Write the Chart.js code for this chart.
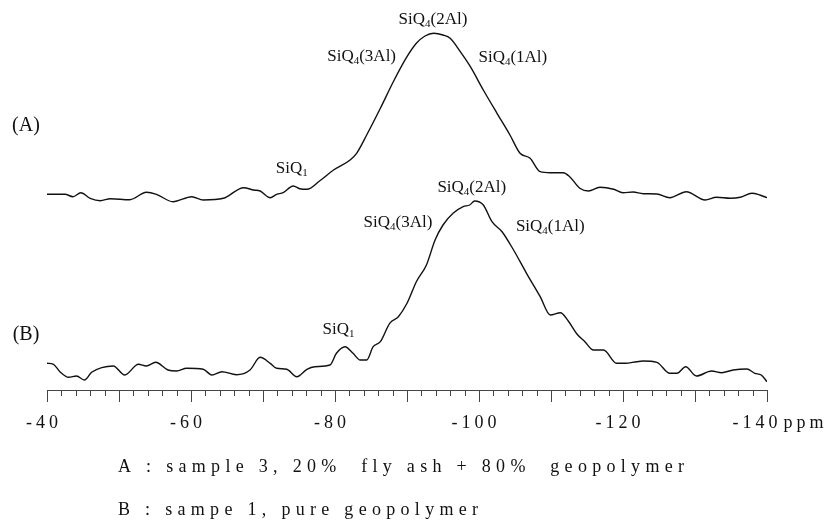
<!DOCTYPE html>
<html>
<head>
<meta charset="utf-8">
<script src="https://cdn.jsdelivr.net/npm/chart.js@4/dist/chart.umd.min.js"></script>
<style>
  html, body { margin: 0; padding: 0; background: #fff; }
  #wrap { width: 835px; height: 520px; }
</style>
</head>
<body>
<div id="wrap"><canvas id="nmr" width="835" height="520"></canvas></div>
<script>
// 29Si MAS NMR spectra, chemical shift (ppm) vs intensity (arbitrary units, traces stacked)

// (A) sample 3, 20% fly ash + 80% geopolymer
const ppmA = [-40.0, -42.5, -43.6, -44.7, -46.0, -47.4, -48.8, -51.5, -53.8, -55.2, -57.5, -60.1, -61.7, -64.5,
  -67.3, -68.7, -69.6, -71.0, -71.9, -72.8, -74.2, -75.1, -76.1, -77.9, -79.8, -82.1, -83.0, -84.4, -86.3, -88.1,
  -90.0, -91.3, -92.5, -93.7, -95.0, -96.0, -97.4, -98.8, -100.6, -102.5, -104.3, -105.7, -107.1, -108.5, -109.9,
  -111.7, -112.6, -114.0, -115.2, -116.8, -118.7, -120.0, -121.4, -122.8, -124.7, -126.5, -128.8, -131.4, -133.0,
  -134.9, -136.3, -137.9, -139.0, -140.0];
const intA = [19.57, 19.57, 19.33, 19.73, 19.17, 18.93, 19.13, 19.03, 19.77, 19.57, 18.83, 19.33, 19.0, 19.17,
  20.23, 20.0, 19.9, 19.23, 19.57, 19.73, 20.4, 20.13, 20.07, 20.93, 22.0, 23.0, 23.67, 25.5, 28.17, 30.83,
  33.33, 34.67, 35.4, 35.67, 35.5, 35.17, 33.83, 32.33, 30.0, 27.67, 25.5, 23.67, 23.17, 21.83, 21.73,
  21.73, 21.33, 20.17, 19.9, 20.27, 20.07, 19.73, 19.8, 19.63, 19.6, 19.23, 19.83, 19.0, 19.27,
  19.17, 19.27, 19.67, 19.5, 19.23];

// (B) sample 1, pure geopolymer
const ppmB = [-40.0, -40.9, -41.8, -43.0, -44.1, -45.2, -46.2, -47.6, -49.2, -50.8, -52.7, -53.8, -55.1, -56.8,
  -58.0, -59.4, -61.7, -62.9, -64.3, -66.3, -68.2, -69.6, -71.0, -71.9, -73.3, -74.7, -76.1, -77.2, -79.3, -80.2,
  -81.4, -82.5, -83.5, -84.4, -85.3, -86.3, -87.6, -88.8, -90.0, -91.3, -92.7, -93.9, -95.0, -96.4, -97.8, -98.7,
  -99.4, -100.6, -101.8, -103.2, -104.8, -106.6, -108.5, -109.9, -111.3, -112.4, -113.6, -114.7, -115.9, -117.3,
  -119.1, -120.3, -121.9, -122.8, -124.7, -126.5, -127.5, -128.7, -130.2, -132.3, -133.7, -135.3, -137.2, -138.3,
  -139.2, -140.0];
const intB = [2.67, 2.57, 1.83, 1.27, 1.4, 1.0, 1.77, 2.23, 2.4, 1.5, 2.57, 2.4, 2.77, 2.0,
  1.9, 2.17, 2.07, 1.5, 1.83, 1.53, 2.0, 3.27, 2.67, 2.17, 2.07, 1.33, 2.07, 2.33, 2.5, 3.67,
  4.33, 3.67, 3.0, 3.0, 4.33, 4.83, 6.67, 7.33, 8.67, 10.83, 12.5, 15.0, 16.5, 17.67, 18.33, 18.5,
  18.9, 18.5, 16.83, 15.83, 14.0, 11.67, 9.33, 7.5, 7.73, 6.9, 5.6, 4.83, 4.0, 4.0,
  2.67, 2.67, 2.83, 2.9, 2.77, 1.67, 1.67, 2.33, 1.4, 1.9, 1.73, 2.0, 2.1, 1.67,
  1.5, 0.83];

// axis ticks
const tickValues = [-40, -60, -80, -100, -120, -140];
const tickLabels = ['-40', '-60', '-80', '-100', '-120', '-140'];
const axisUnit = 'ppm';

const captions = [
  'A : sample 3, 20%  fly ash + 80%  geopolymer',
  'B : sampe 1, pure geopolymer'
];

const SERIF = '"Liberation Serif", "Times New Roman", serif';

function toPoints(xs, ys) {
  return xs.map((x, i) => ({ x: x, y: ys[i] }));
}

// SiQ with subscript, centred on (cx, cy)
function drawSiQ(ctx, sub, tail, cx, cy) {
  const big = '17px ' + SERIF;
  const small = '11px ' + SERIF;
  ctx.font = big;
  const w1 = ctx.measureText('SiQ').width;
  const w3 = ctx.measureText(tail).width;
  ctx.font = small;
  const w2 = ctx.measureText(sub).width;
  let x = cx - (w1 + w2 + w3) / 2;
  ctx.textAlign = 'left';
  ctx.textBaseline = 'middle';
  ctx.font = big; ctx.fillText('SiQ', x, cy); x += w1;
  ctx.font = small; ctx.fillText(sub, x, cy + 4); x += w2;
  ctx.font = big; ctx.fillText(tail, x, cy);
}

const decorPlugin = {
  id: 'decor',
  afterDraw(chart) {
    const ctx = chart.ctx;
    const xs = chart.scales.x;
    const ys = chart.scales.y;
    const y0 = chart.chartArea.bottom;

    ctx.save();
    ctx.fillStyle = '#111';

    // ppm axis with minor (2 ppm) and major (10 ppm) ticks
    ctx.strokeStyle = '#444';
    ctx.lineWidth = 1;
    ctx.beginPath();
    ctx.moveTo(xs.getPixelForValue(-40), y0 + 0.5);
    ctx.lineTo(xs.getPixelForValue(-140), y0 + 0.5);
    for (let v = -40; v >= -140; v -= 2) {
      const px = Math.round(xs.getPixelForValue(v)) + 0.5;
      const len = v % 10 === 0 ? 12 : 6;
      ctx.moveTo(px, y0);
      ctx.lineTo(px, y0 + len);
    }
    ctx.stroke();

    ctx.font = '18px ' + SERIF;
    ctx.letterSpacing = '4px';
    ctx.textBaseline = 'middle';
    tickValues.forEach((v, i) => {
      const px = xs.getPixelForValue(v);
      ctx.textAlign = 'center';
      if (i === tickValues.length - 1) {
        ctx.fillText(tickLabels[i], px - 10, y0 + 33);
        const w = ctx.measureText(tickLabels[i]).width;
        ctx.textAlign = 'left';
        ctx.fillText(axisUnit, px - 10 + w / 2 + 2, y0 + 33);
      } else {
        ctx.fillText(tickLabels[i], px - 3, y0 + 33);
      }
    });

    ctx.letterSpacing = '5.3px';
    ctx.textAlign = 'left';
    ctx.fillText(captions[0], 118, y0 + 77);
    ctx.fillText(captions[1], 118, y0 + 120);
    ctx.letterSpacing = '0px';

    // trace names
    ctx.font = '20px ' + SERIF;
    ctx.textAlign = 'center';
    ctx.fillText('(A)', chart.chartArea.left - 21, ys.getPixelForValue(26.4));
    ctx.fillText('(B)', chart.chartArea.left - 21, ys.getPixelForValue(5.5));

    // peak assignments
    const px = v => xs.getPixelForValue(v);
    const py = v => ys.getPixelForValue(v);
    drawSiQ(ctx, '4', '(2Al)', px(-93.6), py(37.0));
    drawSiQ(ctx, '4', '(3Al)', px(-83.7), py(33.3));
    drawSiQ(ctx, '4', '(1Al)', px(-104.7), py(33.2));
    drawSiQ(ctx, '1', '', px(-74.0), py(22.1));
    drawSiQ(ctx, '4', '(2Al)', px(-99.0), py(20.2));
    drawSiQ(ctx, '4', '(3Al)', px(-88.75), py(16.7));
    drawSiQ(ctx, '4', '(1Al)', px(-109.9), py(16.3));
    drawSiQ(ctx, '1', '', px(-80.5), py(6.0));

    ctx.restore();
  }
};

const lineStyle = {
  borderColor: '#111',
  borderWidth: 1.4,
  pointRadius: 0,
  cubicInterpolationMode: 'monotone',
  fill: false
};

new Chart(document.getElementById('nmr'), {
  type: 'line',
  data: {
    datasets: [
      Object.assign({ label: 'A', data: toPoints(ppmA, intA) }, lineStyle),
      Object.assign({ label: 'B', data: toPoints(ppmB, intB) }, lineStyle)
    ]
  },
  options: {
    responsive: false,
    animation: false,
    layout: { padding: { left: 47, right: 68, top: 20, bottom: 130 } },
    plugins: {
      legend: { display: false },
      tooltip: { enabled: false }
    },
    scales: {
      x: { type: 'linear', min: -140, max: -40, reverse: true, display: false },
      y: { min: 0, max: 37, display: false }
    }
  },
  plugins: [decorPlugin]
});
</script>
</body>
</html>
